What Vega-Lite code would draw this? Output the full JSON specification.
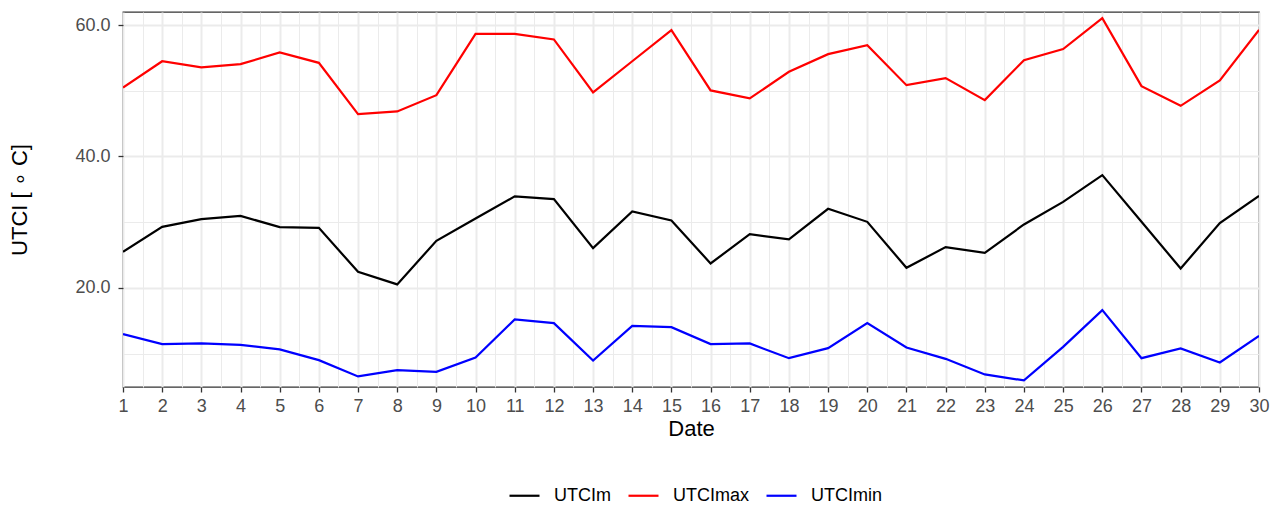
{
  "$schema": "https://vega.github.io/schema/vega-lite/v6.json",
  "width": 1136,
  "height": 375,
  "autosize": {"type": "none"},
  "padding": {"left": 123, "top": 12, "right": 16, "bottom": 118},
  "background": "white",
  "config": {
    "font": "Liberation Sans",
    "view": {"stroke": "#333333", "strokeWidth": 1.3},
    "axis": {"domain": false}
  },
  "datasets": {
    "utci": [
      {"Date":1,"UTCIm":25.48,"UTCImax":50.5,"UTCImin":12.95},
      {"Date":2,"UTCIm":29.29,"UTCImax":54.5,"UTCImin":11.43},
      {"Date":3,"UTCIm":30.46,"UTCImax":53.56,"UTCImin":11.53},
      {"Date":4,"UTCIm":30.96,"UTCImax":54.06,"UTCImin":11.32},
      {"Date":5,"UTCIm":29.24,"UTCImax":55.84,"UTCImin":10.62},
      {"Date":6,"UTCIm":29.13,"UTCImax":54.26,"UTCImin":8.99},
      {"Date":7,"UTCIm":22.44,"UTCImax":46.45,"UTCImin":6.51},
      {"Date":8,"UTCIm":20.52,"UTCImax":46.86,"UTCImin":7.47},
      {"Date":9,"UTCIm":27.16,"UTCImax":49.34,"UTCImin":7.21},
      {"Date":10,"UTCIm":30.56,"UTCImax":58.68,"UTCImin":9.4},
      {"Date":11,"UTCIm":33.92,"UTCImax":58.68,"UTCImin":15.19},
      {"Date":12,"UTCIm":33.5,"UTCImax":57.82,"UTCImin":14.62},
      {"Date":13,"UTCIm":26.04,"UTCImax":49.75,"UTCImin":8.94},
      {"Date":14,"UTCIm":31.63,"UTCImax":54.5,"UTCImin":14.21},
      {"Date":15,"UTCIm":30.26,"UTCImax":59.24,"UTCImin":14.01},
      {"Date":16,"UTCIm":23.71,"UTCImax":50.06,"UTCImin":11.43},
      {"Date":17,"UTCIm":28.18,"UTCImax":48.84,"UTCImin":11.53},
      {"Date":18,"UTCIm":27.37,"UTCImax":52.89,"UTCImin":9.29},
      {"Date":19,"UTCIm":32.03,"UTCImax":55.58,"UTCImin":10.82},
      {"Date":20,"UTCIm":30.05,"UTCImax":56.95,"UTCImin":14.62},
      {"Date":21,"UTCIm":23.05,"UTCImax":50.86,"UTCImin":10.92},
      {"Date":22,"UTCIm":26.2,"UTCImax":51.93,"UTCImin":9.19},
      {"Date":23,"UTCIm":25.33,"UTCImax":48.58,"UTCImin":6.81},
      {"Date":24,"UTCIm":29.65,"UTCImax":54.67,"UTCImin":5.9},
      {"Date":25,"UTCIm":33.09,"UTCImax":56.35,"UTCImin":11.02},
      {"Date":26,"UTCIm":37.16,"UTCImax":61.07,"UTCImin":16.6},
      {"Date":27,"UTCIm":30.05,"UTCImax":50.71,"UTCImin":9.29},
      {"Date":28,"UTCIm":22.95,"UTCImax":47.71,"UTCImin":10.77},
      {"Date":29,"UTCIm":29.85,"UTCImax":51.58,"UTCImin":8.64},
      {"Date":30,"UTCIm":34.01,"UTCImax":59.28,"UTCImin":12.69}
    ]
  },
  "data": {"name": "utci"},
  "transform": [
    {"fold": ["UTCIm", "UTCImax", "UTCImin"], "as": ["variable", "value"]}
  ],
  "mark": {"type": "line", "strokeWidth": 2.2, "clip": true},
  "encoding": {
    "x": {
      "field": "Date",
      "type": "quantitative",
      "scale": {"domain": [1, 30], "nice": false, "zero": false},
      "axis": {
        "title": "Date",
        "titleFontSize": 22,
        "titleFontWeight": "normal",
        "titleColor": "black",
        "titlePadding": 3,
        "values": [1,1.5,2,2.5,3,3.5,4,4.5,5,5.5,6,6.5,7,7.5,8,8.5,9,9.5,10,10.5,11,11.5,12,12.5,13,13.5,14,14.5,15,15.5,16,16.5,17,17.5,18,18.5,19,19.5,20,20.5,21,21.5,22,22.5,23,23.5,24,24.5,25,25.5,26,26.5,27,27.5,28,28.5,29,29.5,30],
        "labelExpr": "datum.value % 1 === 0 ? format(datum.value, 'd') : ''",
        "labelOverlap": false,
        "labelFontSize": 18,
        "labelColor": "#4d4d4d",
        "labelPadding": 5,
        "labelFlush": false,
        "tickSize": 5,
        "tickColor": {"condition": {"test": "datum.value % 1 === 0", "value": "#333333"}, "value": "rgba(0,0,0,0)"},
        "tickWidth": {"condition": {"test": "datum.value % 1 === 0", "value": 1.3}, "value": 0},
        "grid": true,
        "gridColor": "#ebebeb",
        "gridWidth": {"condition": {"test": "datum.value % 1 === 0", "value": 2}, "value": 1}
      }
    },
    "y": {
      "field": "value",
      "type": "quantitative",
      "scale": {"domain": [4.9, 62], "nice": false, "zero": false},
      "axis": {
        "title": "UTCI [ ∘ C]",
        "titleFontSize": 22,
        "titleFontWeight": "normal",
        "titleColor": "black",
        "titlePadding": 43,
        "values": [10, 20, 30, 40, 50, 60],
        "labelExpr": "datum.value % 20 === 0 ? format(datum.value, '.1f') : ''",
        "labelOverlap": false,
        "labelFontSize": 18,
        "labelColor": "#4d4d4d",
        "labelPadding": 8,
        "tickSize": 5,
        "tickColor": {"condition": {"test": "datum.value % 20 === 0", "value": "#333333"}, "value": "rgba(0,0,0,0)"},
        "tickWidth": {"condition": {"test": "datum.value % 20 === 0", "value": 1.3}, "value": 0},
        "grid": true,
        "gridColor": "#ebebeb",
        "gridWidth": {"condition": {"test": "datum.value % 20 === 0", "value": 2}, "value": 1}
      }
    },
    "color": {
      "field": "variable",
      "type": "nominal",
      "scale": {"domain": ["UTCIm", "UTCImax", "UTCImin"], "range": ["black", "#ff0000", "#0000ff"]},
      "legend": {
        "title": null,
        "orient": "none",
        "direction": "horizontal",
        "legendX": 385,
        "legendY": 467,
        "symbolType": "stroke",
        "symbolSize": 900,
        "symbolStrokeWidth": 2.2,
        "labelFontSize": 18,
        "labelColor": "black",
        "labelOffset": 13,
        "columnPadding": 13,
        "padding": 0
      }
    }
  }
}
